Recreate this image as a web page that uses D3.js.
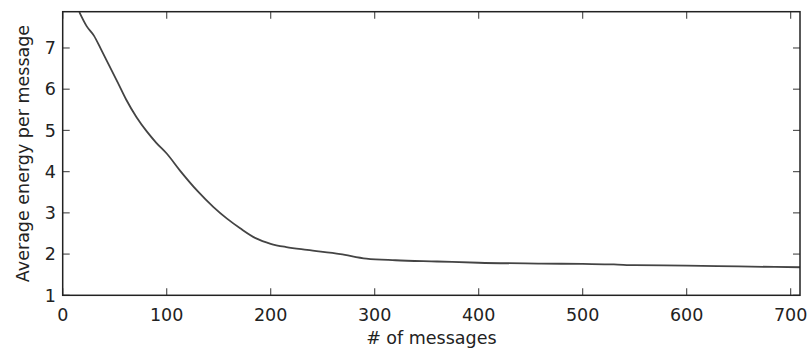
<!DOCTYPE html>
<html><head><meta charset="utf-8">
<script src="https://cdn.jsdelivr.net/npm/d3@7"></script>
<style>html,body{margin:0;padding:0;background:#fff;}svg{display:block;}</style>
</head><body>
<svg id="chart" width="808" height="349"></svg>
<script>
const messages = [16, 23, 30, 37, 45, 53, 61, 71, 81, 90, 100, 113, 130, 145, 158, 171, 186, 200, 215, 235, 267, 292, 320, 360, 400, 460, 500, 530, 550, 600, 650, 709];
const energy = [7.87, 7.53, 7.3, 6.96, 6.56, 6.16, 5.75, 5.32, 4.97, 4.70, 4.44, 4.02, 3.52, 3.14, 2.86, 2.62, 2.38, 2.25, 2.17, 2.10, 2.00, 1.89, 1.85, 1.82, 1.79, 1.77, 1.76, 1.75, 1.73, 1.72, 1.70, 1.68];
const xTicks = [0, 100, 200, 300, 400, 500, 600, 700];
const yTicks = [1, 2, 3, 4, 5, 6, 7];
const xLabel = "# of messages";
const yLabel = "Average energy per message";

const svg = d3.select("#chart");
const L = 62.7, R = 800, T = 11.7, B = 295.3;
const x = d3.scaleLinear().domain([0, 709]).range([L, R]);
const y = d3.scaleLinear().domain([1, 7.88]).range([B, T]);
const font = "'DejaVu Sans', sans-serif";
const tickLen = 7;

svg.append("defs").append("clipPath").attr("id", "clip")
  .append("rect").attr("x", L).attr("y", T).attr("width", R - L).attr("height", B - T);

// ticks (inward on all sides)
const tg = svg.append("g").attr("stroke", "#555").attr("stroke-width", 1.2);
xTicks.forEach(t => {
  tg.append("line").attr("x1", x(t)).attr("x2", x(t)).attr("y1", B).attr("y2", B - tickLen);
  tg.append("line").attr("x1", x(t)).attr("x2", x(t)).attr("y1", T).attr("y2", T + tickLen);
});
yTicks.forEach(t => {
  tg.append("line").attr("x1", L).attr("x2", L + tickLen).attr("y1", y(t)).attr("y2", y(t));
  tg.append("line").attr("x1", R).attr("x2", R - tickLen).attr("y1", y(t)).attr("y2", y(t));
});

// curve
const line = d3.line().x((d, i) => x(messages[i])).y((d, i) => y(energy[i])).curve(d3.curveMonotoneX);
svg.append("path").datum(energy).attr("d", line).attr("fill", "none")
  .attr("stroke", "#444").attr("stroke-width", 1.8).attr("clip-path", "url(#clip)");

// frame
svg.append("rect").attr("x", L).attr("y", T).attr("width", R - L).attr("height", B - T)
  .attr("fill", "none").attr("stroke", "#222").attr("stroke-width", 1.5);

// tick labels
svg.append("g").selectAll("text").data(xTicks).join("text")
  .attr("x", d => x(d)).attr("y", 320.5).attr("text-anchor", "middle")
  .attr("font-family", font).attr("font-size", 17.5).attr("fill", "#222").text(d => d);
svg.append("g").selectAll("text").data(yTicks).join("text")
  .attr("x", 56).attr("y", d => y(d)).attr("dy", "0.36em").attr("text-anchor", "end")
  .attr("font-family", font).attr("font-size", 17.5).attr("fill", "#222").text(d => d);

// axis labels
svg.append("text").attr("x", (L + R) / 2).attr("y", 344).attr("text-anchor", "middle")
  .attr("font-family", font).attr("font-size", 17.5).attr("fill", "#222").text(xLabel);
svg.append("text").attr("transform", "translate(28.5,153.5) rotate(-90)").attr("text-anchor", "middle")
  .attr("font-family", font).attr("font-size", 17.5).attr("fill", "#222").text(yLabel);
</script>
</body></html>
